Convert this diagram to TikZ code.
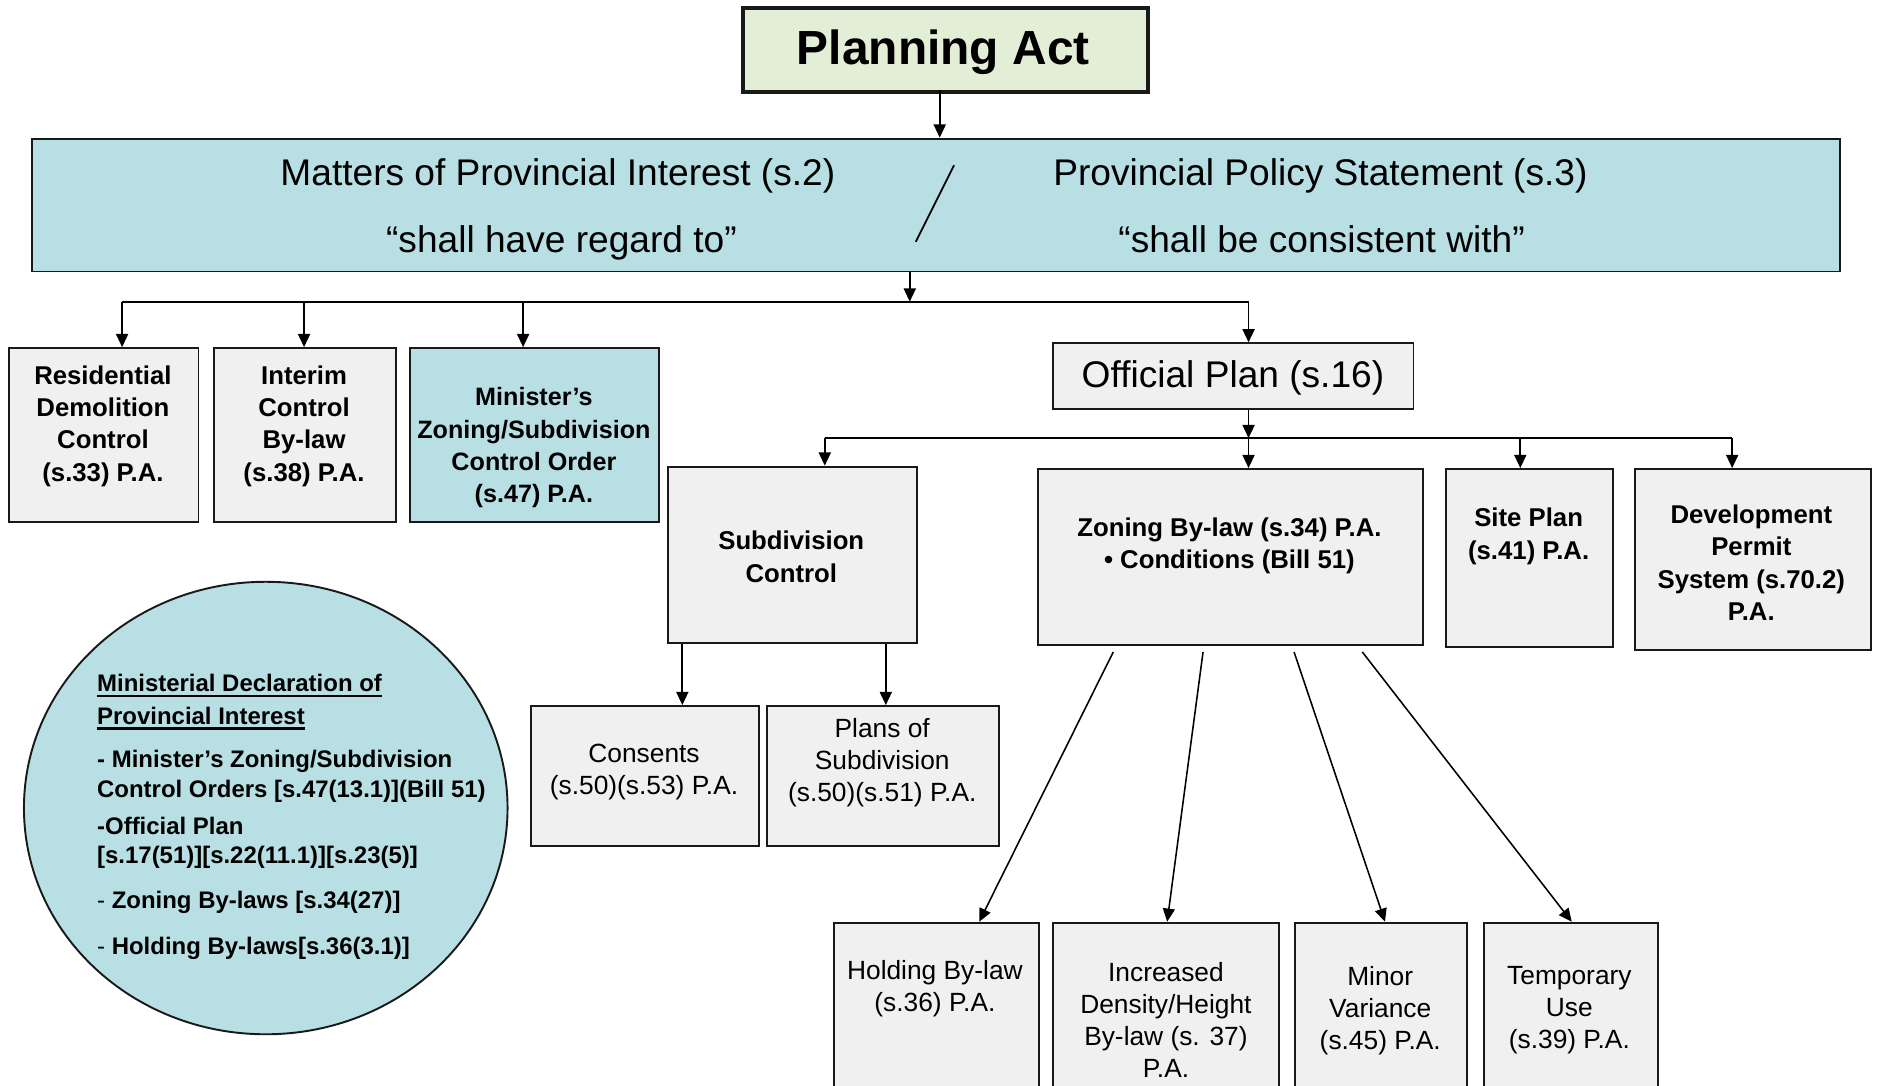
\documentclass[tikz,border=0pt]{standalone}
\usepackage{fontspec}
\setmainfont{Liberation Sans}
\newcommand{\myul}[1]{\setbox0\hbox{#1}\rlap{\vrule height -2.6pt depth 4.6pt width \wd0}\box0}
\usetikzlibrary{arrows.meta,calc,shapes.geometric}
\definecolor{bandblue}{RGB}{184,223,227}
\definecolor{pagreen}{RGB}{227,238,214}
\definecolor{boxgray}{RGB}{240,240,240}
\definecolor{edge}{RGB}{25,25,25}
\begin{document}
\begin{tikzpicture}[x=1pt,y=1pt,
  box/.style={draw=edge, line width=1.6pt, fill=boxgray, inner sep=0pt, anchor=north west},
  btxt/.style={inner sep=0pt, yshift=-3pt, align=center, font=\fontsize{21.5}{27}\selectfont\bfseries},
  rtxt/.style={inner sep=0pt, yshift=-3pt, align=center, font=\fontsize{22}{26.7}\selectfont},
  big/.style={inner sep=0pt, yshift=-3pt, align=center, font=\fontsize{31}{37}\selectfont},
  ctxt/.style={inner sep=0pt, anchor=base west, font=\fontsize{20}{24}\selectfont\bfseries},
  conn/.style={line width=1.5pt, draw=black},
  arr/.style={conn, -{Triangle[length=11pt,width=10pt]}}]
\useasboundingbox (0,0) rectangle (1568,-907);
\clip (0,0) rectangle (1568,-907);
\fill[white] (0,0) rectangle (1568,-907);

% top
\node[box, fill=pagreen, line width=3.5pt, minimum width=338pt, minimum height=70pt] (pa) at (619,-5) {};
\node[inner sep=0pt, yshift=-3pt, font=\fontsize{40}{48}\selectfont\bfseries] (pat) at (788,-41) {Planning Act};
\node[box, fill=bandblue, minimum width=1510pt, minimum height=111pt] (band) at (26,-115) {};
\node[big] (mpi) at (466,-144) {Matters of Provincial Interest (s.2)};
\node[big] (mpiq) at (469,-200) {“shall have regard to”};
\node[big] (pps) at (1103,-144) {Provincial Policy Statement (s.3)};
\node[big] (ppsq) at (1104,-197) {“shall be consistent with”};
\coordinate (sl1) at (797,-138);
\coordinate (sl2) at (765,-202);
\draw[conn] (sl1) -- (sl2);

% level 2 boxes
\node[box, minimum width=158pt, minimum height=145pt] (res) at (7,-290) {};
\node[btxt] (rest) at (86,-353) {Residential\\Demolition\\Control\\(s.33) P.A.};
\node[box, minimum width=152pt, minimum height=145pt] (int) at (178,-290) {};
\node[btxt] (intt) at (254,-353) {Interim\\Control\\By-law\\(s.38) P.A.};
\node[box, fill=bandblue, minimum width=208pt, minimum height=145pt] (min) at (342,-290) {};
\node[btxt, font=\fontsize{21}{27}\selectfont\bfseries] (mint) at (446,-371) {Minister’s\\Zoning/Subdivision\\Control Order\\(s.47) P.A.};
\node[box, minimum width=301pt, minimum height=55pt] (op) at (879,-286) {};
\node[big] (opt) at (1030,-313) {Official Plan (s.16)};

% level 3
\node[box, minimum width=208pt, minimum height=147pt] (sub) at (557,-389) {};
\node[btxt] (subt) at (661,-462) {Subdivision\\Control};
\node[box, minimum width=322pt, minimum height=147pt] (zon) at (866,-391) {};
\node[btxt] (zont) at (1027,-453) {Zoning By-law (s.34) P.A.\\• Conditions (Bill 51)};
\node[box, minimum width=140pt, minimum height=149pt] (site) at (1207,-391) {};
\node[btxt] (sitet) at (1277,-445) {Site Plan\\(s.41) P.A.};
\node[box, minimum width=197pt, minimum height=151pt] (dev) at (1365,-391) {};
\node[btxt] (devt) at (1463,-467) {Development\\Permit\\System (s.70.2)\\P.A.};

% level 4
\node[box, minimum width=190pt, minimum height=117pt] (con) at (443,-589) {};
\node[rtxt] (cont) at (538,-642) {Consents\\(s.50)(s.53) P.A.};
\node[box, minimum width=194pt, minimum height=117pt] (pla) at (640,-589) {};
\node[rtxt] (plat) at (737,-634) {Plans of\\Subdivision\\(s.50)(s.51) P.A.};

\node[box, minimum width=171pt, minimum height=170pt] (hol) at (696,-770) {};
\node[rtxt] (holt) at (781,-823) {Holding By-law\\(s.36) P.A.};
\node[box, minimum width=189pt, minimum height=170pt] (inc) at (879,-770) {};
\node[rtxt] (inct) at (974,-849) {Increased\\Density/Height\\By-law (s. 37)\\P.A.};
\node[box, minimum width=144pt, minimum height=170pt] (mnr) at (1081,-770) {};
\node[rtxt] (mnrt) at (1153,-841) {Minor\\Variance\\(s.45) P.A.};
\node[box, minimum width=145pt, minimum height=170pt] (tmp) at (1239,-770) {};
\node[rtxt] (tmpt) at (1311,-841) {Temporary\\Use\\(s.39) P.A.};

% ellipse
\node[ellipse, draw=edge, line width=1.6pt, fill=bandblue, minimum width=404pt, minimum height=378pt, inner sep=0pt] (mdpi) at (222,-675) {};
\node[ctxt] (c1) at (81,-578) {\myul{Ministerial Declaration of}};
\node[ctxt] (c2) at (81,-605) {\myul{Provincial Interest}};
\node[ctxt] (c3) at (81,-641) {- Minister’s Zoning/Subdivision};
\node[ctxt] (c4) at (81,-666) {Control Orders [s.47(13.1)](Bill 51)};
\node[ctxt] (c5) at (81,-697) {-Official Plan};
\node[ctxt] (c6) at (81,-721) {[s.17(51)][s.22(11.1)][s.23(5)]};
\node[ctxt] (c7) at (81,-759) {{\mdseries -} Zoning By-laws [s.34(27)]};
\node[ctxt] (c8) at (81,-797) {{\mdseries -} Holding By-laws[s.36(3.1)]};

% connectors
\coordinate (a0) at (785,-75);
\draw[arr] (a0) -- (a0 |- band.north);
\coordinate (bus) at (760,-252);
\draw[arr] (bus |- band.south) -- (bus);
\coordinate (b1) at (102,-252);
\coordinate (b2) at (254,-252);
\coordinate (b3) at (437,-252);
\coordinate (b4) at (1043,-252);
\draw[conn] (b1) -- (b4);
\draw[arr] (b1) -- (b1 |- res.north);
\draw[arr] (b2) -- (b2 |- int.north);
\draw[arr] (b3) -- (b3 |- min.north);
\draw[arr] (b4) -- (b4 |- op.north);

\coordinate (obus) at (1043,-366);
\draw[arr] (obus |- op.south) -- (obus);
\coordinate (o1) at (689,-366);
\coordinate (o2) at (1043,-366);
\coordinate (o3) at (1270,-366);
\coordinate (o4) at (1447,-366);
\draw[conn] (o1) -- (o4);
\draw[arr] (o1) -- (o1 |- sub.north);
\draw[arr] (o2) -- (o2 |- zon.north);
\draw[arr] (o3) -- (o3 |- site.north);
\draw[arr] (o4) -- (o4 |- dev.north);

\coordinate (s1) at (570,-538);
\coordinate (s2) at (740,-538);
\draw[arr] (s1) -- (s1 |- con.north);
\draw[arr] (s2) -- (s2 |- pla.north);

\draw[arr, line width=1.3pt] ($(zon.south west)+(64,-5)$) -- ($(hol.north west)+(122,0)$);
\draw[arr, line width=1.3pt] ($(zon.south west)+(139,-5)$) -- ($(inc.north west)+(96,0)$);
\draw[arr, line width=1.3pt] ($(zon.south west)+(215,-5)$) -- ($(mnr.north west)+(76,0)$);
\draw[arr, line width=1.3pt] ($(zon.south west)+(272,-5)$) -- ($(tmp.north west)+(74,0)$);
\end{tikzpicture}
\end{document}
